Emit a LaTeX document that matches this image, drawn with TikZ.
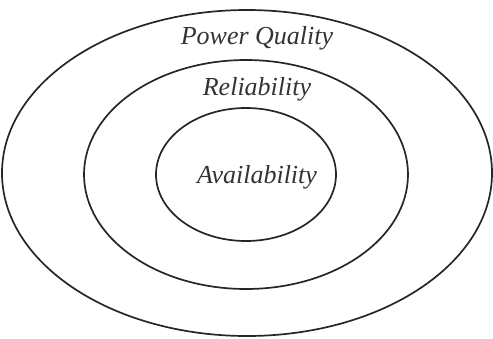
\documentclass[tikz,border=0pt]{standalone}
\usepackage{fontspec}
\setmainfont{Liberation Serif}
\begin{document}
\begin{tikzpicture}[x=1pt,y=-1pt,
  ring/.style={draw=black!85,line width=1.7pt},
  lbl/.style={font=\fontsize{26}{30}\selectfont\itshape,text=black!80,inner sep=0pt}]
\useasboundingbox (0,0) rectangle (493,338);
\draw[ring] (247,173) ellipse [x radius=245, y radius=163];
\draw[ring] (246,174.5) ellipse [x radius=162, y radius=114.5];
\draw[ring] (246,174.5) ellipse [x radius=90, y radius=66.5];
\node[lbl] (pq) at (257,38) {Power Quality};
\node[lbl] (rel) at (257,89) {Reliability};
\node[lbl] (av) at (257,177) {Availability};
\end{tikzpicture}
\end{document}
